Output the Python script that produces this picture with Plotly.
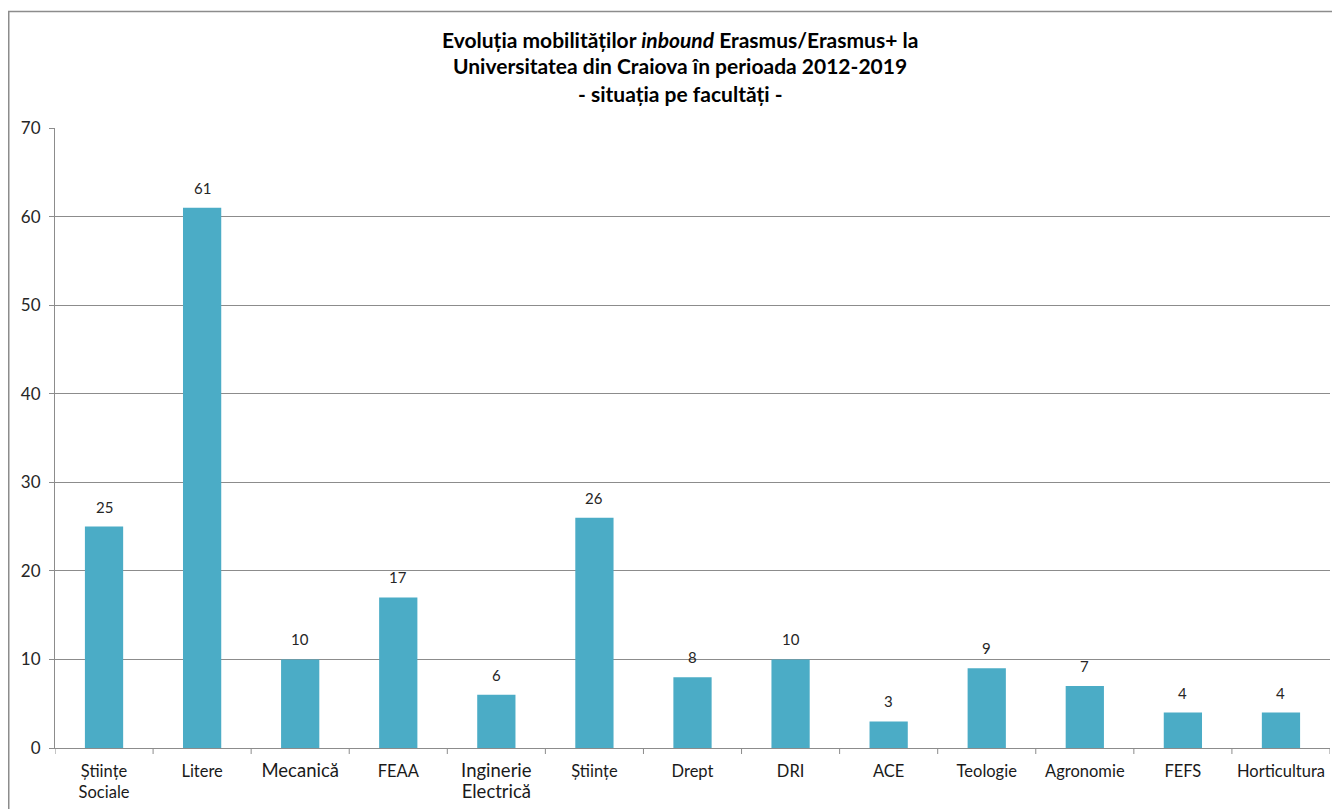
import plotly.graph_objects as go

categories = ["Științe<br>Sociale", "Litere", "Mecanică", "FEAA", "Inginerie<br>Electrică",
              "Științe", "Drept", "DRI", "ACE", "Teologie", "Agronomie", "FEFS", "Horticultura"]
values = [25, 61, 10, 17, 6, 26, 8, 10, 3, 9, 7, 4, 4]
y_ticks = [0, 10, 20, 30, 40, 50, 60, 70]

title_lines = ["Evoluția mobilităților <i>inbound</i> Erasmus/Erasmus+ la",
               "Universitatea din Craiova în perioada 2012-2019",
               "- situația pe facultăți -"]

# page body offsets the figure by 8px, so the figure is sized to fit the window
W, H = 1332, 801
L, R, T, B = 47, 10, 120, 61
pw, ph = W - L - R, H - T - B

def px_x(p):
    return (p - L) / pw

def px_y(p):
    return (H - B - p) / ph

FONT = "Lato"
GRID = "#8c8c8c"
TXT = "#404040"

big = {"Mecanică", "Inginerie<br>Electrică"}
ticktext = [f'<span style="font-size:18.5px">{c}</span>' if c in big else c for c in categories]

xs = list(range(len(categories)))
fig = go.Figure(go.Bar(
    x=xs, y=values,
    marker=dict(color="#4BACC6", line=dict(width=0)),
    width=0.39, hoverinfo="x+y",
))

for x, v in zip(xs, values):
    fig.add_annotation(x=x, y=v, text=str(v), showarrow=False,
                       xanchor="center", yanchor="bottom", yshift=9,
                       font=dict(family=FONT, size=15, color="#262626"))

fig.update_layout(
    width=W, height=H,
    margin=dict(l=L, r=R, t=T, b=B, autoexpand=False),
    paper_bgcolor="white", plot_bgcolor="white",
    font=dict(family=FONT, size=15, color=TXT),
    showlegend=False,
    xaxis=dict(
        tickmode="array", tickvals=xs, ticktext=ticktext,
        range=[-0.5, len(categories) - 0.5],
        showline=True, linecolor=GRID, linewidth=1,
        showgrid=False, zeroline=False, automargin=False,
        ticklabelstandoff=8,
        tickfont=dict(family=FONT, size=16.5, color="#1a1a1a"),
    ),
    yaxis=dict(
        range=[0, 70], tickvals=y_ticks,
        showline=True, linecolor=GRID, linewidth=1,
        showgrid=True, gridcolor=GRID, gridwidth=1,
        zeroline=False, automargin=False,
        ticks="outside", ticklen=5, tickcolor=GRID,
        ticklabelstandoff=5,
        tickfont=dict(family=FONT, size=17, color="#262626"),
    ),
)

# boundary ticks on category axis
shapes = []
for k in range(len(categories) + 1):
    shapes.append(dict(type="line", xref="x", yref="paper",
                       x0=k - 0.5, x1=k - 0.5, y0=0, y1=-6 / ph,
                       line=dict(color=GRID, width=1)))
# chart border
shapes.append(dict(type="rect", xref="paper", yref="paper",
                   x0=px_x(0.75), x1=px_x(W + 20), y0=px_y(3.5), y1=px_y(H + 20),
                   line=dict(color="#8c8c8c", width=1.5), fillcolor="rgba(0,0,0,0)", layer="below"))
fig.update_layout(shapes=shapes)

for i, line in enumerate(title_lines):
    fig.add_annotation(text=f"<b>{line}</b>", xref="paper", yref="paper",
                       x=px_x(672), y=px_y(31 + 27 * i), showarrow=False,
                       xanchor="center", yanchor="middle",
                       font=dict(family=FONT, size=21, color="#000000"))

fig.write_html("out.html")
